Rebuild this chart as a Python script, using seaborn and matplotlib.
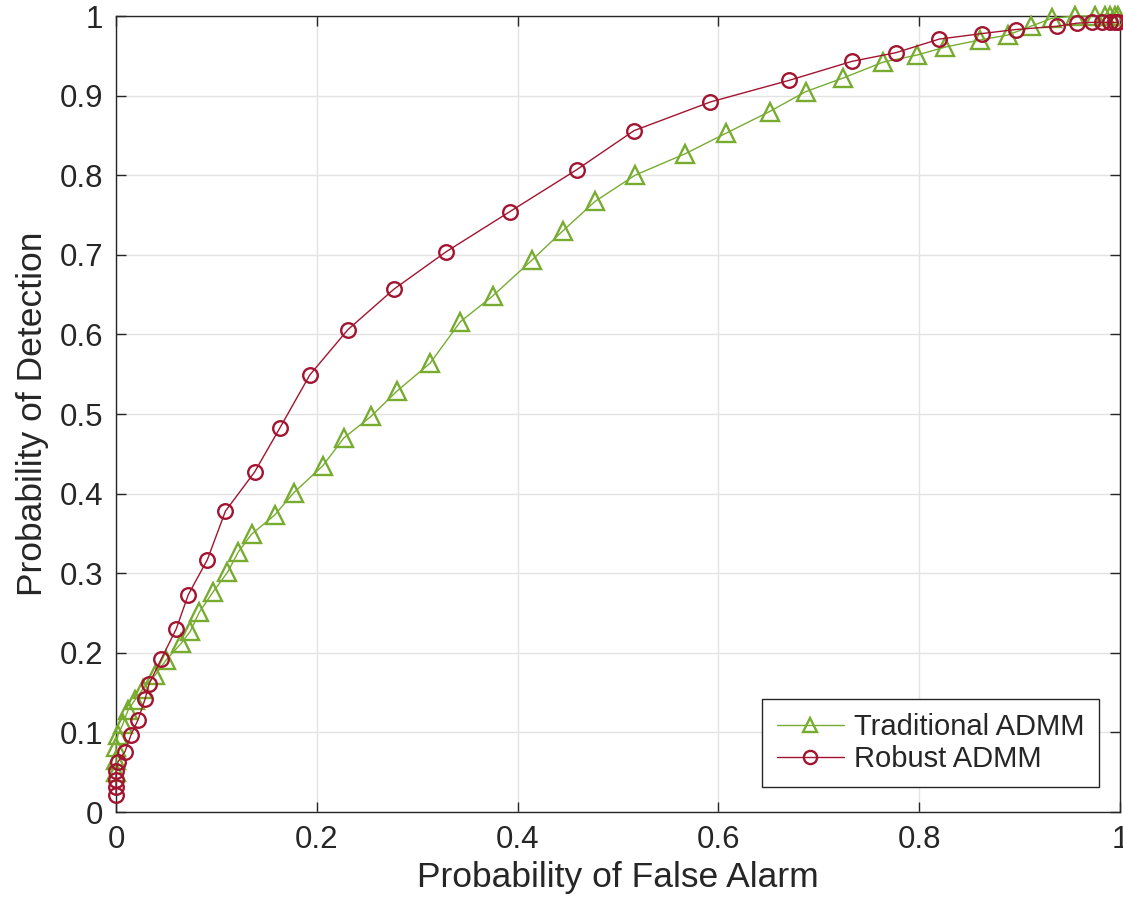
import numpy as np
import pandas as pd
import matplotlib
matplotlib.use("Agg")
import matplotlib.pyplot as plt
import seaborn as sns
from matplotlib.ticker import FuncFormatter

# ROC curves: (false alarm probability, detection probability)
trad_pfa = [0.0, 0.0, 0.0, 0.002, 0.007, 0.012, 0.019, 0.027, 0.039, 0.050,
            0.065, 0.074, 0.083, 0.097, 0.111, 0.122, 0.135, 0.158, 0.177, 0.206,
            0.227, 0.254, 0.280, 0.313, 0.343, 0.375, 0.414, 0.445, 0.477, 0.517,
            0.567, 0.608, 0.651, 0.687, 0.724, 0.764, 0.798, 0.826, 0.861, 0.888,
            0.911, 0.932, 0.955, 0.975, 0.985, 0.990, 0.995, 0.998]
trad_pd = [0.050, 0.065, 0.082, 0.097, 0.111, 0.128, 0.141, 0.155, 0.172, 0.191,
           0.212, 0.227, 0.251, 0.277, 0.301, 0.327, 0.349, 0.373, 0.401, 0.435,
           0.470, 0.497, 0.529, 0.564, 0.616, 0.648, 0.693, 0.730, 0.767, 0.800,
           0.827, 0.853, 0.880, 0.905, 0.922, 0.942, 0.951, 0.961, 0.970, 0.976,
           0.987, 0.997, 1.0, 1.0, 1.0, 1.0, 1.0, 1.0]

rob_pfa = [0.0, 0.0, 0.0, 0.0, 0.002, 0.009, 0.015, 0.022, 0.029, 0.033,
           0.045, 0.060, 0.072, 0.091, 0.109, 0.138, 0.163, 0.193, 0.231, 0.277,
           0.329, 0.392, 0.459, 0.516, 0.592, 0.670, 0.733, 0.777, 0.820, 0.863,
           0.896, 0.937, 0.957, 0.972, 0.982, 0.990, 0.995, 0.998]
rob_pd = [0.021, 0.032, 0.040, 0.051, 0.063, 0.076, 0.097, 0.116, 0.142, 0.161,
          0.192, 0.230, 0.273, 0.317, 0.378, 0.427, 0.482, 0.549, 0.606, 0.657,
          0.704, 0.754, 0.807, 0.856, 0.892, 0.919, 0.943, 0.954, 0.971, 0.978,
          0.983, 0.987, 0.991, 0.992, 0.992, 0.992, 0.992, 0.992]

series_names = ["Traditional ADMM", "Robust ADMM"]
x_ticks = [0, 0.2, 0.4, 0.6, 0.8, 1.0]
y_ticks = [0, 0.1, 0.2, 0.3, 0.4, 0.5, 0.6, 0.7, 0.8, 0.9, 1.0]

sns.set_theme(style="whitegrid")
plt.rcParams["font.family"] = ["Liberation Sans", "DejaVu Sans"]

fig = plt.figure(figsize=(11.23, 9.06), dpi=100)
ax = fig.add_axes([116 / 1123, 1 - 812 / 906, (1120 - 116) / 1123, (812 - 16) / 906])
ax.set_facecolor("white")

green = "#77AC30"
red = "#A2142F"

df_t = pd.DataFrame({"pfa": trad_pfa, "pd": trad_pd})
df_r = pd.DataFrame({"pfa": rob_pfa, "pd": rob_pd})

sns.lineplot(data=df_t, x="pfa", y="pd", ax=ax, sort=False, estimator=None,
             color=green, lw=1.0, marker="^", markersize=13,
             markerfacecolor="none", markeredgecolor=green, markeredgewidth=1.7,
             label=series_names[0], clip_on=False, zorder=3)
sns.lineplot(data=df_r, x="pfa", y="pd", ax=ax, sort=False, estimator=None,
             color=red, lw=1.0, marker="o", markersize=10.5,
             markerfacecolor="none", markeredgecolor=red, markeredgewidth=1.7,
             label=series_names[1], clip_on=False, zorder=4)

ax.set_xlim(0, 1)
ax.set_ylim(0, 1)
ax.set_xticks(x_ticks)
ax.set_yticks(y_ticks)
fmt = FuncFormatter(lambda v, p: f"{v:g}")
ax.xaxis.set_major_formatter(fmt)
ax.yaxis.set_major_formatter(fmt)

ax.grid(True, color="#e3e3e3", lw=1.0)
ax.set_axisbelow(True)
for s in ax.spines.values():
    s.set_visible(True)
    s.set_color("#262626")
    s.set_linewidth(1.0)

ax.tick_params(axis="both", which="major", direction="in", length=7.5, width=1.0,
               color="#262626", labelsize=22.5, labelcolor="#262626", pad=9,
               top=True, right=True, bottom=True, left=True)

ax.set_xlabel("Probability of False Alarm", fontsize=25.5, color="#262626", labelpad=5)
ax.set_ylabel("Probability of Detection", fontsize=25.5, color="#262626", labelpad=8)

leg = ax.legend(loc="lower right", bbox_to_anchor=(0.979, 0.031), fontsize=21,
                frameon=True, fancybox=False, edgecolor="#262626",
                framealpha=1.0, borderpad=0.5, handlelength=2.3,
                handletextpad=0.35, labelspacing=0.12, borderaxespad=0.0)
leg.get_frame().set_linewidth(1.0)
for h in leg.legend_handles:
    h.set_markersize(9.5)

fig.savefig("out.png", dpi=100)
